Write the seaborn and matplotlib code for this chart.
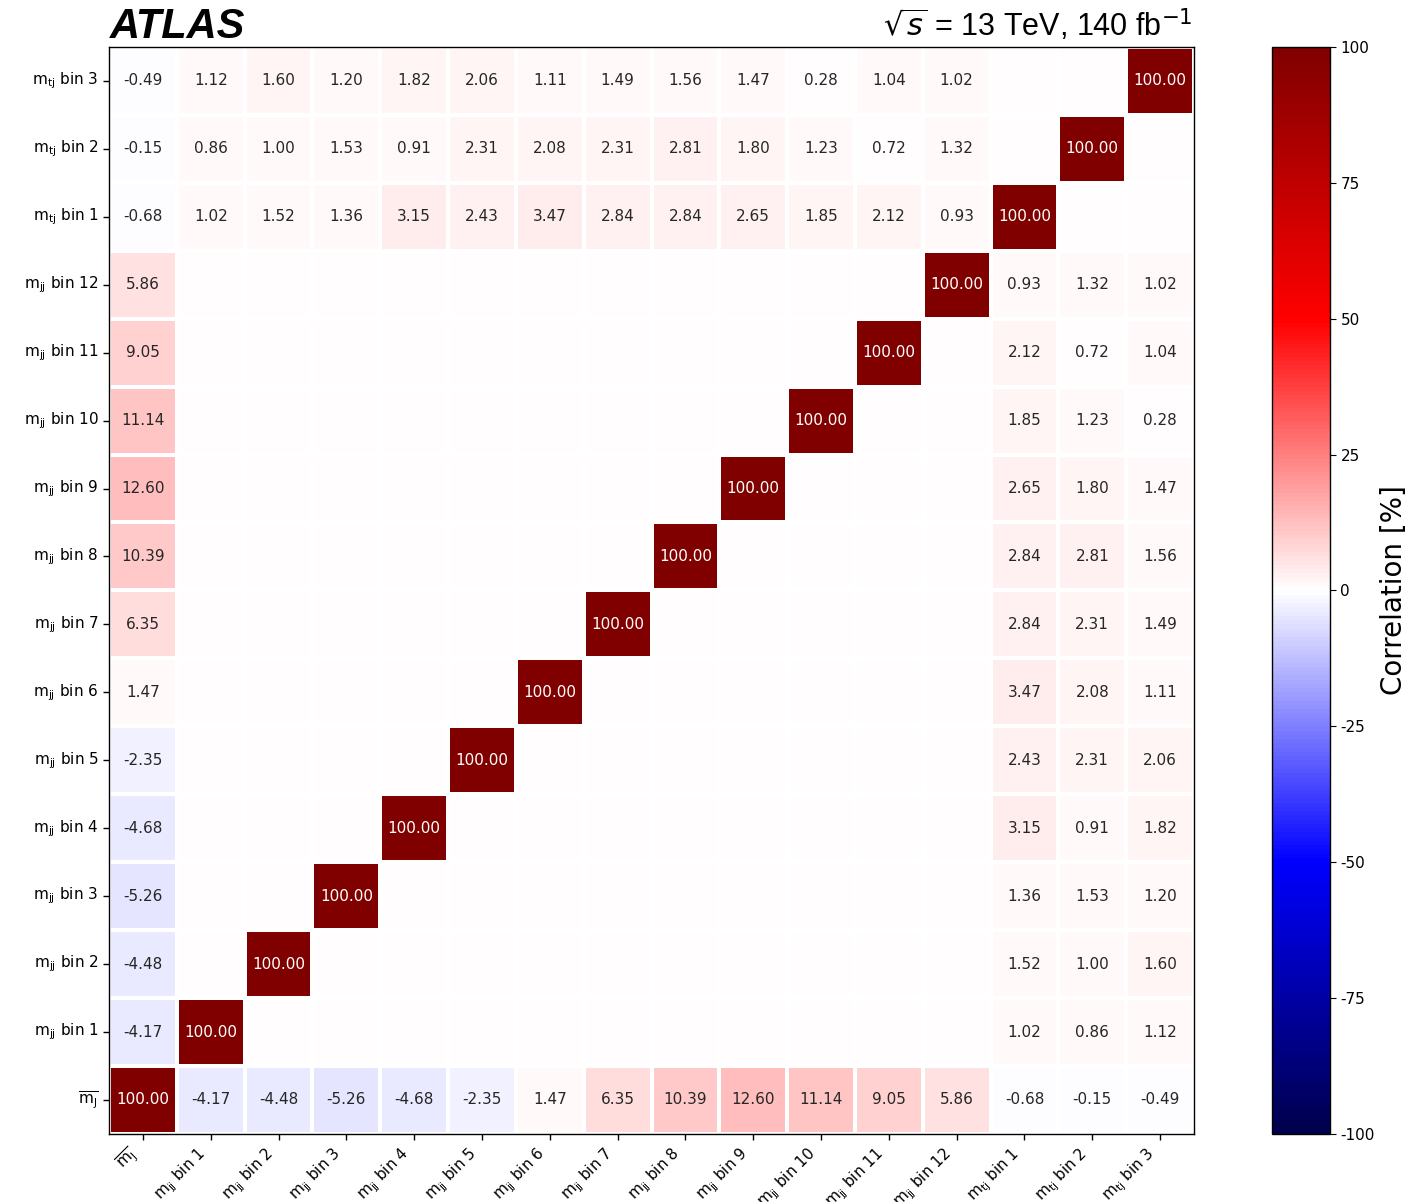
import numpy as np
import pandas as pd
import matplotlib
matplotlib.use("Agg")
import matplotlib.pyplot as plt
import seaborn as sns

plt.rcParams["axes.unicode_minus"] = False

# Parameter labels (mathtext)
labels = [r"$\overline{\mathrm{m_{J}}}$"] \
    + [r"$\mathrm{m_{jj}}$ bin %d" % i for i in range(1, 13)] \
    + [r"$\mathrm{m_{tj}}$ bin %d" % i for i in range(1, 4)]

# Correlations [%] of the mean jet mass with each m_jj bin and m_tj bin
corr_mJ_mjj = [-4.17, -4.48, -5.26, -4.68, -2.35, 1.47, 6.35, 10.39, 12.60, 11.14, 9.05, 5.86]
corr_mJ_mtj = [-0.68, -0.15, -0.49]

# Correlations [%] of each m_tj bin with the m_jj bins 1..12
corr_mtj1_mjj = [1.02, 1.52, 1.36, 3.15, 2.43, 3.47, 2.84, 2.84, 2.65, 1.85, 2.12, 0.93]
corr_mtj2_mjj = [0.86, 1.00, 1.53, 0.91, 2.31, 2.08, 2.31, 2.81, 1.80, 1.23, 0.72, 1.32]
corr_mtj3_mjj = [1.12, 1.60, 1.20, 1.82, 2.06, 1.11, 1.49, 1.56, 1.47, 0.28, 1.04, 1.02]

n = len(labels)
# fill the upper triangle, then symmetrise and put 100 % on the diagonal
upper = np.zeros((n, n))
upper[0, 1:13] = corr_mJ_mjj
upper[0, 13:16] = corr_mJ_mtj
for k, row in enumerate([corr_mtj1_mjj, corr_mtj2_mjj, corr_mtj3_mjj]):
    upper[13 + k, 1:13] = row
corr = upper + upper.T + np.eye(n) * 100.0

df = pd.DataFrame(corr, index=labels, columns=labels)
# rows shown with the first parameter at the bottom
df_plot = df.iloc[::-1]
annot = df_plot.map(lambda v: "" if v == 0 else "%.2f" % v)

fig = plt.figure(figsize=(14.11, 12.02), dpi=100)
ax = fig.add_axes([0.0773, 0.0566, 0.7689, 0.9044])
cax = fig.add_axes([0.9015, 0.0566, 0.0411, 0.9044])

sns.heatmap(df_plot, ax=ax, cbar_ax=cax, cmap="seismic", vmin=-100, vmax=100,
            annot=annot.values, fmt="", annot_kws={"fontsize": 11},
            linewidths=1.5, linecolor="white", square=False,
            cbar_kws={"ticks": [-100, -75, -50, -25, 0, 25, 50, 75, 100]})

for side in ["top", "bottom", "left", "right"]:
    ax.spines[side].set_visible(True)
    ax.spines[side].set_color("black")
    ax.spines[side].set_linewidth(1.0)

ax.tick_params(axis="both", length=4, width=1, labelsize=11)
ax.set_xticklabels(ax.get_xticklabels(), rotation=45, ha="right")
ax.set_yticklabels(ax.get_yticklabels(), rotation=0)

cb = ax.collections[0].colorbar
cb.outline.set_linewidth(1.0)
cb.outline.set_edgecolor("black")
cb.ax.tick_params(labelsize=11, length=4)
cb.set_label("Correlation [%]", fontsize=20, labelpad=4)

fig.text(0.078, 0.968, "ATLAS", fontsize=30, fontweight="bold", fontstyle="italic",
         family="Liberation Sans", ha="left", va="baseline")
fig.text(0.845, 0.970, r"$\sqrt{s}$ = 13 TeV, 140 fb$^{-1}$", fontsize=22,
         family="Liberation Sans", ha="right", va="baseline")

fig.savefig("out.png", dpi=100)
